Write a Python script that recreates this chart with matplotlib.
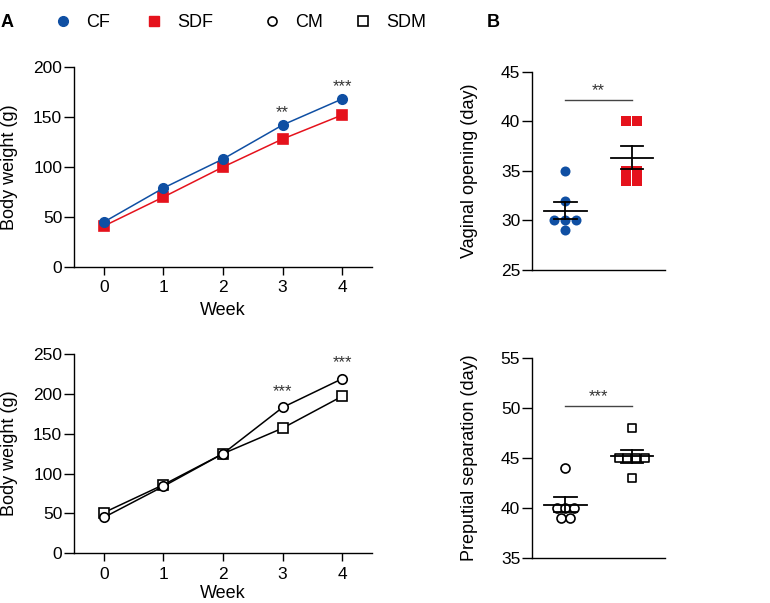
import numpy as np
import matplotlib
matplotlib.use('Agg')
import matplotlib.pyplot as plt
from matplotlib.lines import Line2D

plt.rcParams['font.family'] = 'Liberation Sans'
plt.rcParams['axes.linewidth'] = 1.0

# data
weeks = [0, 1, 2, 3, 4]
cf_weight = [45, 79, 108, 142, 168]
sdf_weight = [41, 70, 100, 128, 152]
cm_weight = [45, 84, 125, 183, 219]
sdm_weight = [51, 86, 125, 157, 197]
female_stars = {3: '**', 4: '***'}
male_stars = {3: '***', 4: '***'}

cf_vo = [35, 32, 30, 30, 30, 29]
sdf_vo = [40, 40, 35, 35, 34, 34]
cm_ps = [44, 40, 40, 40, 39, 39]
sdm_ps = [48, 45, 45, 45, 45, 43]

BLUE = '#0f4fa3'
RED = '#e5121c'


def style_axis(ax):
    ax.spines['top'].set_visible(False)
    ax.spines['right'].set_visible(False)
    ax.tick_params(axis='y', direction='out', length=7, width=1.0, labelsize=12.5, pad=1.5)
    ax.tick_params(axis='x', direction='out', length=6, width=1.0, labelsize=12.5, pad=3.5)


def swarm(values, center, step):
    values = np.asarray(values, dtype=float)
    xs = np.zeros(len(values))
    for v in np.unique(values):
        idx = np.where(values == v)[0]
        n = len(idx)
        xs[idx] = center + (np.arange(n) - (n - 1) / 2) * step
    return xs


def mean_sem(ax, values, center, half=0.32, cap=0.17):
    m = np.mean(values)
    s = np.std(values, ddof=1) / np.sqrt(len(values))
    ax.plot([center - half, center + half], [m, m], color='black', lw=1.3, zorder=4)
    ax.plot([center, center], [m - s, m + s], color='black', lw=1.3, zorder=4)
    for y in (m - s, m + s):
        ax.plot([center - cap, center + cap], [y, y], color='black', lw=1.3, zorder=4)


def line_panel(ax, a, b, a_kw, b_kw, ymax, stars, star_off, xpad):
    ax.plot(weeks, b, color=b_kw['lc'], lw=1.1, marker='s', ms=6.5,
            mfc=b_kw['fc'], mec=b_kw['ec'], mew=1.2, zorder=2)
    ax.plot(weeks, a, color=a_kw['lc'], lw=1.1, marker='o', ms=6.8,
            mfc=a_kw['fc'], mec=a_kw['ec'], mew=1.2, zorder=3)
    for w, s in stars.items():
        ax.text(w, a[w] + star_off, s, ha='center', va='center', fontsize=12, color='#333333')
    ax.set_xlim(-0.5, 4.5)
    ax.set_ylim(0, ymax)
    ax.set_xticks(weeks)
    ax.set_xlabel('Week', fontsize=13, labelpad=xpad)
    ax.set_ylabel('Body weight (g)', fontsize=13)
    ax.yaxis.set_label_coords(-0.188, 0.5)
    style_axis(ax)


def dot_panel(ax, a, b, a_kw, b_kw, ylim, yticks, ylabel, sig_y, stars, step):
    ax.scatter(swarm(a, 0, step), a, marker='o', s=a_kw['s'], facecolor=a_kw['fc'],
               edgecolor=a_kw['ec'], linewidth=a_kw['lw'], zorder=3)
    ax.scatter(swarm(b, 1, step), b, marker='s', s=b_kw['s'], facecolor=b_kw['fc'],
               edgecolor=b_kw['ec'], linewidth=b_kw['lw'], zorder=3)
    mean_sem(ax, a, 0)
    mean_sem(ax, b, 1)
    ax.plot([0, 1], [sig_y, sig_y], color='#444444', lw=1.0)
    ax.text(0.5, sig_y + 0.2, stars, ha='center', va='bottom', fontsize=12, color='#333333')
    ax.set_xlim(-0.5, 1.5)
    ax.set_ylim(*ylim)
    ax.set_yticks(yticks)
    ax.set_xticks([])
    ax.set_ylabel(ylabel, fontsize=13)
    ax.yaxis.set_label_coords(-0.41, 0.5)
    style_axis(ax)


fig = plt.figure(figsize=(7.7, 6.03), dpi=100)
ax1 = fig.add_axes([0.0961, 0.557, 0.387, 0.332])
ax2 = fig.add_axes([0.691, 0.5522, 0.1727, 0.329])
ax3 = fig.add_axes([0.0961, 0.0824, 0.387, 0.3305])
ax4 = fig.add_axes([0.691, 0.0751, 0.1727, 0.3307])

fem_a = dict(lc=BLUE, fc=BLUE, ec=BLUE)
fem_b = dict(lc=RED, fc=RED, ec=RED)
male_a = dict(lc='black', fc='white', ec='black')
male_b = dict(lc='black', fc='white', ec='black')

line_panel(ax1, cf_weight, sdf_weight, fem_a, fem_b, 200, female_stars, 12, 5)
ax1.set_yticks([0, 50, 100, 150, 200])
line_panel(ax3, cm_weight, sdm_weight, male_a, male_b, 250, male_stars, 20, 2.5)
ax3.set_yticks([0, 50, 100, 150, 200, 250])

dot_panel(ax2, cf_vo, sdf_vo,
          dict(s=52, fc=BLUE, ec=BLUE, lw=0), dict(s=47, fc=RED, ec=RED, lw=0),
          (25, 45), [25, 30, 35, 40, 45], 'Vaginal opening (day)', 42.1, '**', 0.165)
dot_panel(ax4, cm_ps, sdm_ps,
          dict(s=42, fc='white', ec='black', lw=1.2), dict(s=40, fc='white', ec='black', lw=1.2),
          (35, 55), [35, 40, 45, 50, 55], 'Preputial separation (day)', 50.2, '***', 0.13)

# legends across the top
h1 = [Line2D([], [], ls='none', marker='o', ms=7, color=BLUE),
      Line2D([], [], ls='none', marker='s', ms=6.5, color=RED)]
h2 = [Line2D([], [], ls='none', marker='o', ms=6.5, mfc='white', mec='black', mew=1.2),
      Line2D([], [], ls='none', marker='s', ms=6.5, mfc='white', mec='black', mew=1.2)]
leg_kw = dict(ncol=2, frameon=False, fontsize=13, handlelength=1.0, handletextpad=0.78,
              borderpad=0, borderaxespad=0, loc='center left')
fig.legend(h1, ['CF', 'SDF'], bbox_to_anchor=(0.0697, 0.962), columnspacing=1.95, **leg_kw)
fig.legend(h2, ['CM', 'SDM'], bbox_to_anchor=(0.341, 0.962), columnspacing=1.75, **leg_kw)

fig.text(0.001, 0.962, 'A', fontsize=13, fontweight='bold', va='center')
fig.text(0.632, 0.962, 'B', fontsize=13, fontweight='bold', va='center')

fig.savefig('out.png', dpi=100)
